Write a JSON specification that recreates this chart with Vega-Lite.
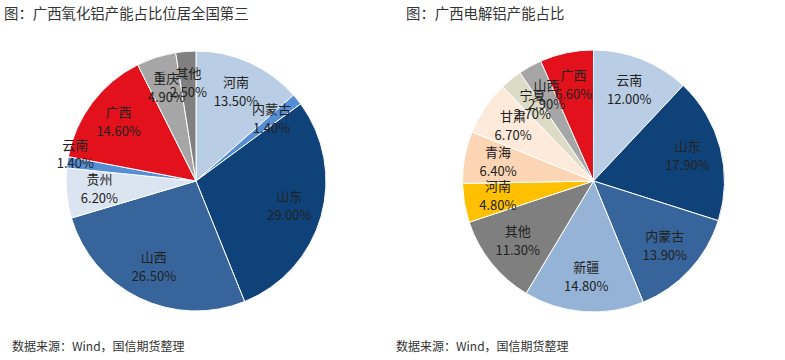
{
  "$schema": "https://vega.github.io/schema/vega-lite/v6.json",
  "padding": 0,
  "spacing": 10,
  "bounds": "flush",
  "background": "white",
  "config": {"view": {"stroke": null}, "font": "Noto Sans CJK SC"},
  "resolve": {"scale": {"color": "independent", "theta": "independent"}},
  "hconcat": [
    {
      "width": 390,
      "height": 360,
      "data": {"values": [
        {"order": 1, "name": "河南", "value": 13.5, "pct": "13.50%"},
        {"order": 2, "name": "内蒙古", "value": 1.4, "pct": "1.40%"},
        {"order": 3, "name": "山东", "value": 29.0, "pct": "29.00%"},
        {"order": 4, "name": "山西", "value": 26.5, "pct": "26.50%"},
        {"order": 5, "name": "贵州", "value": 6.2, "pct": "6.20%"},
        {"order": 6, "name": "云南", "value": 1.4, "pct": "1.40%"},
        {"order": 7, "name": "广西", "value": 14.6, "pct": "14.60%"},
        {"order": 8, "name": "重庆", "value": 4.9, "pct": "4.90%"},
        {"order": 9, "name": "其他", "value": 2.5, "pct": "2.50%"}
      ]},
      "layer": [
        {
          "mark": {"type": "arc", "outerRadius": 130, "stroke": "white", "strokeWidth": 1},
          "encoding": {
            "theta": {"field": "value", "type": "quantitative", "stack": true},
            "order": {"field": "order", "type": "quantitative"},
            "color": {"field": "name", "type": "nominal", "legend": null,
              "scale": {"domain": ["河南", "内蒙古", "山东", "山西", "贵州", "云南", "广西", "重庆", "其他"],
                        "range": ["#b9cde5", "#558ed5", "#10427a", "#36649b", "#dbe5f1", "#558ed5", "#e3111b", "#a6a6a6", "#808080"]}}
          }
        },
        {
          "mark": {"type": "text", "radius": 97, "dy": -10, "fontSize": 13, "color": "#222"},
          "encoding": {
            "theta": {"field": "value", "type": "quantitative", "stack": true},
            "order": {"field": "order", "type": "quantitative"},
            "text": {"condition": {"test": "datum.name === '云南'", "value": ""}, "field": "name"}
          }
        },
        {
          "mark": {"type": "text", "radius": 97, "dy": 9, "fontSize": 13, "color": "#222"},
          "encoding": {
            "theta": {"field": "value", "type": "quantitative", "stack": true},
            "order": {"field": "order", "type": "quantitative"},
            "text": {"condition": {"test": "datum.name === '云南'", "value": ""}, "field": "pct"}
          }
        },
        {
          "mark": {"type": "text", "radius": 122, "dy": -17, "fontSize": 13, "color": "#222"},
          "encoding": {
            "theta": {"field": "value", "type": "quantitative", "stack": true},
            "order": {"field": "order", "type": "quantitative"},
            "text": {"condition": {"test": "datum.name === '云南'", "field": "name"}, "value": ""}
          }
        },
        {
          "mark": {"type": "text", "radius": 122, "dy": 1, "fontSize": 13, "color": "#222"},
          "encoding": {
            "theta": {"field": "value", "type": "quantitative", "stack": true},
            "order": {"field": "order", "type": "quantitative"},
            "text": {"condition": {"test": "datum.name === '云南'", "field": "pct"}, "value": ""}
          }
        },
        {
          "data": {"values": [{"t": "图：广西氧化铝产能占比位居全国第三", "f": "数据来源：Wind，国信期货整理"}]},
          "layer": [
            {"mark": {"type": "text", "x": 3, "y": 14, "align": "left", "baseline": "middle", "fontSize": 14.4, "color": "#333"},
             "encoding": {"text": {"field": "t"}}},
            {"mark": {"type": "text", "x": 11, "y": 346, "align": "left", "baseline": "middle", "fontSize": 12, "color": "#333"},
             "encoding": {"text": {"field": "f"}}},
            {"mark": {"type": "rule", "x": 3, "x2": 400, "y": 31, "y2": 31, "color": "#111", "strokeWidth": 1.5}, "encoding": {}},
            {"mark": {"type": "rule", "x": 3, "x2": 400, "y": 332, "y2": 332, "color": "#333", "strokeWidth": 1.5}, "encoding": {}}
          ]
        }
      ]
    },
    {
      "width": 385,
      "height": 360,
      "data": {"values": [
        {"order": 1, "name": "云南", "value": 12.0, "pct": "12.00%"},
        {"order": 2, "name": "山东", "value": 17.9, "pct": "17.90%"},
        {"order": 3, "name": "内蒙古", "value": 13.9, "pct": "13.90%"},
        {"order": 4, "name": "新疆", "value": 14.8, "pct": "14.80%"},
        {"order": 5, "name": "其他", "value": 11.3, "pct": "11.30%"},
        {"order": 6, "name": "河南", "value": 4.8, "pct": "4.80%"},
        {"order": 7, "name": "青海", "value": 6.4, "pct": "6.40%"},
        {"order": 8, "name": "甘肃", "value": 6.7, "pct": "6.70%"},
        {"order": 9, "name": "宁夏", "value": 2.7, "pct": "2.70%"},
        {"order": 10, "name": "山西", "value": 2.9, "pct": "2.90%"},
        {"order": 11, "name": "广西", "value": 6.6, "pct": "6.60%"}
      ]},
      "layer": [
        {
          "mark": {"type": "arc", "outerRadius": 131, "stroke": "white", "strokeWidth": 1},
          "encoding": {
            "theta": {"field": "value", "type": "quantitative", "stack": true},
            "order": {"field": "order", "type": "quantitative"},
            "color": {"field": "name", "type": "nominal", "legend": null,
              "scale": {"domain": ["云南", "山东", "内蒙古", "新疆", "其他", "河南", "青海", "甘肃", "宁夏", "山西", "广西"],
                        "range": ["#b9cde5", "#10427a", "#36649b", "#95b3d7", "#7f7f7f", "#ffc000", "#fcd5b5", "#fdeada", "#dcdcc6", "#a6a6a6", "#e3111b"]}}
          }
        },
        {
          "mark": {"type": "text", "radius": 97, "dy": -10, "fontSize": 13, "color": "#222"},
          "encoding": {
            "theta": {"field": "value", "type": "quantitative", "stack": true},
            "order": {"field": "order", "type": "quantitative"},
            "text": {"field": "name"}
          }
        },
        {
          "mark": {"type": "text", "radius": 97, "dy": 9, "fontSize": 13, "color": "#222"},
          "encoding": {
            "theta": {"field": "value", "type": "quantitative", "stack": true},
            "order": {"field": "order", "type": "quantitative"},
            "text": {"field": "pct"}
          }
        },
        {
          "data": {"values": [{"t": "图：广西电解铝产能占比", "f": "数据来源：Wind，国信期货整理"}]},
          "layer": [
            {"mark": {"type": "text", "x": 5, "y": 14, "align": "left", "baseline": "middle", "fontSize": 14.4, "color": "#333"},
             "encoding": {"text": {"field": "t"}}},
            {"mark": {"type": "text", "x": -5, "y": 346, "align": "left", "baseline": "middle", "fontSize": 12, "color": "#333"},
             "encoding": {"text": {"field": "f"}}},
            {"mark": {"type": "rule", "x": 0, "x2": 382, "y": 31, "y2": 31, "color": "#111", "strokeWidth": 1.5}, "encoding": {}},
            {"mark": {"type": "rule", "x": 0, "x2": 382, "y": 332, "y2": 332, "color": "#333", "strokeWidth": 1.5}, "encoding": {}}
          ]
        }
      ]
    }
  ]
}
